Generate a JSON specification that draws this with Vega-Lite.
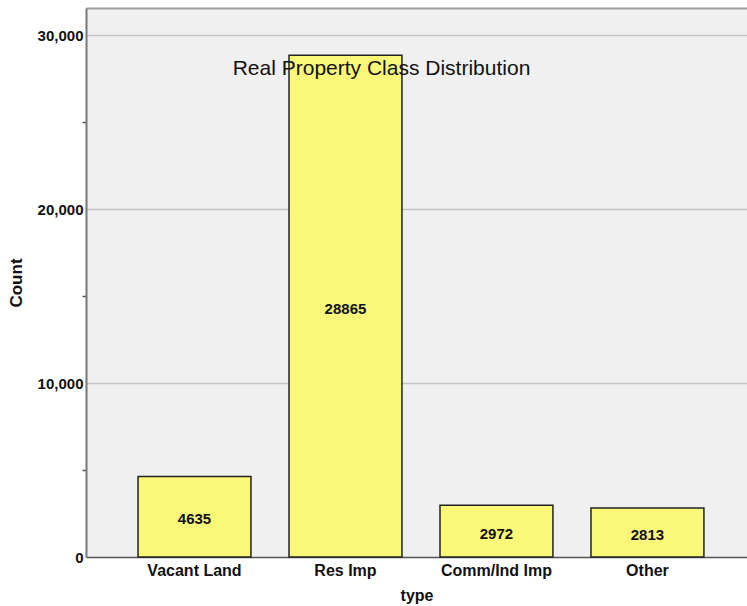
{
  "$schema": "https://vega.github.io/schema/vega-lite/v6.json",
  "autosize": {"type": "none"},
  "padding": {"left": 86, "top": 8, "right": 0, "bottom": 49},
  "width": 661,
  "height": 549,
  "background": "#ffffff",
  "config": {
    "font": "Liberation Sans",
    "view": {"fill": "#f0f0f0", "stroke": null}
  },
  "title": {
    "text": "Real Property Class Distribution",
    "orient": "top",
    "anchor": "middle",
    "frame": "group",
    "font": "Liberation Sans",
    "fontSize": 21,
    "fontWeight": "normal",
    "color": "#111111",
    "baseline": "alphabetic",
    "offset": -88,
    "dx": -35
  },
  "data": {
    "values": [
      {"type": "Vacant Land", "count": 4635},
      {"type": "Res Imp", "count": 28865},
      {"type": "Comm/Ind Imp", "count": 2972},
      {"type": "Other", "count": 2813}
    ]
  },
  "encoding": {
    "x": {
      "field": "type",
      "type": "nominal",
      "sort": null,
      "scale": {"paddingInner": 0.252, "paddingOuter": 0.315, "align": 0.547}
    }
  },
  "layer": [
    {
      "mark": {"type": "bar", "fill": "#fbf779", "stroke": "#222222", "strokeWidth": 1.5},
      "encoding": {
        "x": {
          "field": "type",
          "type": "nominal",
          "sort": null,
          "axis": {
            "title": "type",
            "titleFontSize": 16,
            "titleFontWeight": "bold",
            "titleColor": "#111111",
            "titlePadding": 9,
            "labelFontSize": 16,
            "labelFontWeight": "bold",
            "labelColor": "#111111",
            "labelPadding": 5,
            "labelAngle": 0,
            "ticks": false,
            "domainColor": "#555555",
            "domainWidth": 1.5,
            "grid": false
          }
        },
        "y": {
          "field": "count",
          "type": "quantitative",
          "scale": {"domain": [0, 31580], "nice": false, "zero": true},
          "axis": {
            "title": "Count",
            "titleFontSize": 17,
            "titleFontWeight": "bold",
            "titleColor": "#111111",
            "titlePadding": 12,
            "values": [0, 5000, 10000, 15000, 20000, 25000, 30000],
            "labelExpr": "datum.value % 10000 === 0 ? format(datum.value, ',') : ''",
            "labelFontSize": 15,
            "labelFontWeight": "bold",
            "labelColor": "#111111",
            "labelPadding": -1,
            "tickSize": 4,
            "tickColor": "#555555",
            "tickWidth": 1.5,
            "tickOpacity": {"condition": {"test": "datum.value % 10000 === 0", "value": 0}, "value": 1},
            "domainColor": "#777777",
            "domainWidth": 2,
            "grid": true,
            "gridColor": "#c4c4c4",
            "gridWidth": 1.5,
            "gridOpacity": {"condition": {"test": "datum.value % 10000 === 0 && datum.value > 0", "value": 1}, "value": 0}
          }
        }
      }
    },
    {
      "transform": [{"calculate": "datum.count / 2", "as": "mid"}],
      "mark": {"type": "text", "font": "Liberation Sans", "fontSize": 15, "fontWeight": "bold", "color": "#111111", "baseline": "middle", "dy": 2.5},
      "encoding": {
        "x": {
          "field": "type",
          "type": "nominal",
          "sort": null,
          "axis": {
            "orient": "top",
            "title": null,
            "labels": false,
            "ticks": false,
            "grid": false,
            "domainColor": "#a0a0a0",
            "domainWidth": 2
          }
        },
        "y": {"field": "mid", "type": "quantitative"},
        "text": {"field": "count", "type": "quantitative", "format": "d"}
      }
    }
  ],
  "resolve": {"axis": {"x": "independent"}}
}
